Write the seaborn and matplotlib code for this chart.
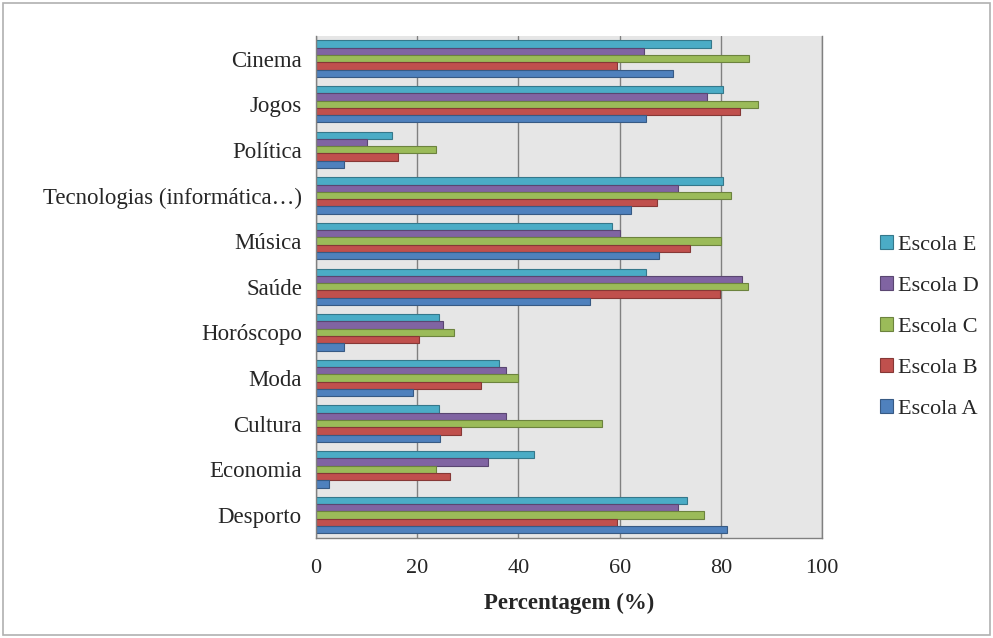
import numpy as np
import pandas as pd
import matplotlib
matplotlib.use("Agg")
import matplotlib.pyplot as plt
import seaborn as sns

categories = ["Cinema", "Jogos", "Política", "Tecnologias (informática…)", "Música",
              "Saúde", "Horóscopo", "Moda", "Cultura", "Economia", "Desporto"]
escola_e = [78.0, 80.4, 15.1, 80.4, 58.4, 65.2, 24.4, 36.2, 24.4, 43.0, 73.3]
escola_d = [64.8, 77.3, 10.2, 71.6, 60.1, 84.1, 25.1, 37.6, 37.6, 34.1, 71.6]
escola_c = [85.5, 87.3, 23.7, 81.9, 80.0, 85.4, 27.3, 39.9, 56.6, 23.7, 76.6]
escola_b = [59.4, 83.8, 16.3, 67.3, 73.8, 79.9, 20.4, 32.7, 28.7, 26.5, 59.4]
escola_a = [70.5, 65.2, 5.5, 62.3, 67.7, 54.1, 5.5, 19.1, 24.5, 2.7, 81.2]
series_names = ["Escola E", "Escola D", "Escola C", "Escola B", "Escola A"]
colors = ["#4BACC6", "#8064A2", "#9BBB59", "#C0504D", "#4F81BD"]

rows = []
for name, vals in zip(series_names, [escola_e, escola_d, escola_c, escola_b, escola_a]):
    for cat, v in zip(categories, vals):
        rows.append({"Categoria": cat, "Escola": name, "Valor": v})
df = pd.DataFrame(rows)

sns.set_style("white")
plt.rcParams["font.family"] = ["Liberation Serif", "DejaVu Serif"]

fig = plt.figure(figsize=(9.93, 6.38), dpi=100)
ax = fig.add_axes([0.318, 0.157, 0.510, 0.787])
ax.set_facecolor("#e6e6e6")

sns.barplot(data=df, y="Categoria", x="Valor", hue="Escola", order=categories,
            hue_order=series_names, palette=colors, orient="h", width=0.8,
            saturation=1, ax=ax, legend=True)

for p in ax.patches:
    fc = p.get_facecolor()
    dark = tuple(c * 0.7 for c in fc[:3]) + (1,)
    p.set_edgecolor(dark)
    p.set_linewidth(0.8)

ax.set_xlim(0, 100)
ax.set_xticks([0, 20, 40, 60, 80, 100])
ax.xaxis.grid(True, color="#808080", linewidth=1.0)
ax.set_axisbelow(True)
ax.set_ylabel("")
ax.set_xlabel("Percentagem (%)", fontsize=16.5, fontweight="bold", labelpad=11)
ax.tick_params(axis="x", labelsize=16, length=0, pad=15)
ax.tick_params(axis="y", labelsize=16.5, length=0, pad=10)
for s in ["left", "bottom", "right"]:
    ax.spines[s].set_visible(True)
    ax.spines[s].set_color("#808080")
    ax.spines[s].set_linewidth(1.0)
ax.spines["top"].set_visible(False)

handles, labels = ax.get_legend_handles_labels()
ax.legend_.remove()
fig.legend(handles, labels, loc="center left", bbox_to_anchor=(0.877, 0.488),
           frameon=False, fontsize=16, handlelength=0.6, handleheight=0.6,
           handletextpad=0.2, labelspacing=0.95, borderaxespad=0)

border = plt.Rectangle((0.003, 0.004), 0.994, 0.992, transform=fig.transFigure,
                       fill=False, edgecolor="#b0b0b0", linewidth=1.2)
fig.patches.append(border)

fig.savefig("out.png", dpi=100)
